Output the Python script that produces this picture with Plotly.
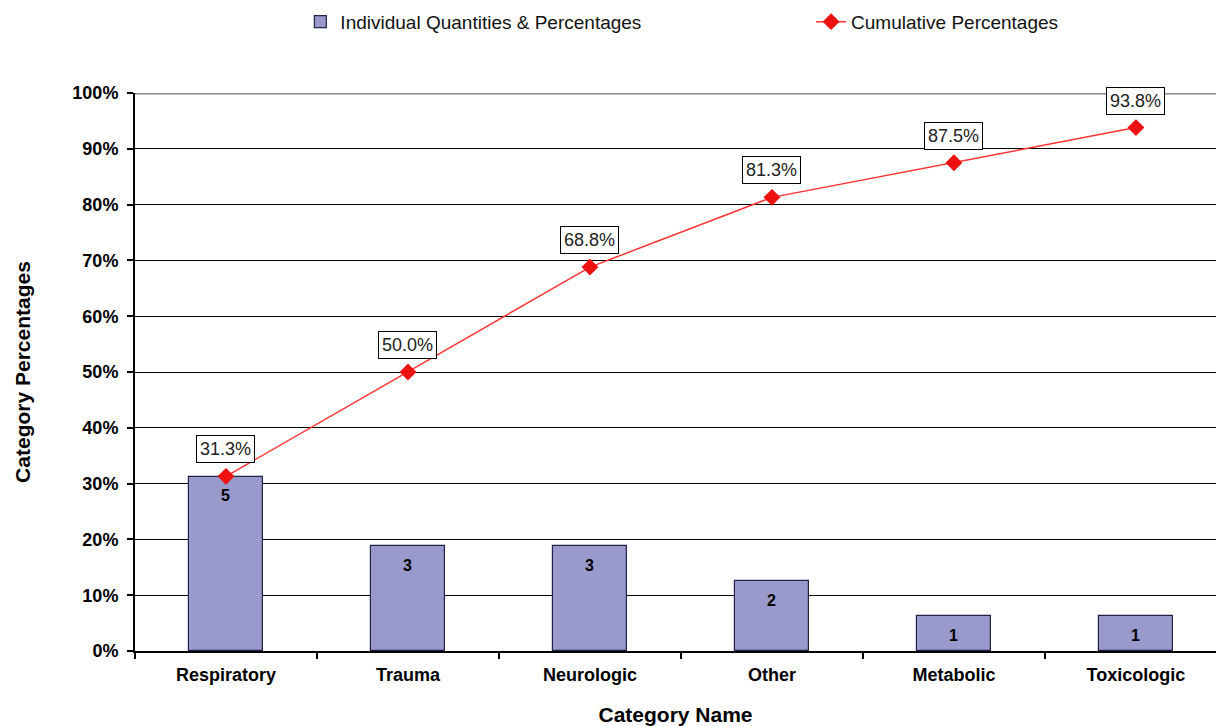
import plotly.graph_objects as go

categories = ["Respiratory", "Trauma", "Neurologic", "Other", "Metabolic", "Toxicologic"]
counts = [5, 3, 3, 2, 1, 1]
total_count = 16
percentages = [c / total_count * 100 for c in counts]
cumulative = [31.3, 50.0, 68.8, 81.3, 87.5, 93.8]
y_ticks = [0, 10, 20, 30, 40, 50, 60, 70, 80, 90, 100]

FONT = "Liberation Sans, Arial, sans-serif"

fig = go.Figure()
fig.add_trace(go.Bar(
    x=categories, y=percentages, width=0.41,
    marker=dict(color="#9999CC", line=dict(color="#222244", width=1.2)),
    name="Individual Quantities & Percentages", legend="legend",
))
fig.add_trace(go.Scatter(
    x=categories, y=cumulative, mode="lines+markers",
    line=dict(color="#FF3333", width=1.5),
    marker=dict(symbol="diamond", size=13, color="#EE1111"),
    name="Cumulative Percentages", legend="legend2",
))

# count labels just inside the top of each bar
for cat, pct, cnt in zip(categories, percentages, counts):
    fig.add_annotation(
        x=cat, y=pct, text=str(cnt), showarrow=False, yshift=-19,
        font=dict(family=FONT, size=16, color="black", weight="bold"),
    )

for cat, val in zip(categories, cumulative):
    fig.add_annotation(
        x=cat, y=val, text=f"{val:.1f}%", showarrow=False, yshift=27,
        font=dict(family=FONT, size=18, color="#222"),
        bgcolor="white", bordercolor="black", borderwidth=1, borderpad=3,
    )

fig.add_shape(type="line", xref="paper", yref="y", x0=0, x1=1, y0=100, y1=100,
              line=dict(color="#888888", width=3), layer="above")

legend_font = dict(family=FONT, size=19, color="#111")
fig.update_layout(
    width=1216, height=726,
    margin=dict(l=135, r=0, t=93, b=75, autoexpand=False),
    plot_bgcolor="white", paper_bgcolor="white",
    font=dict(family=FONT, color="black"),
    bargap=0,
    showlegend=True,
    legend=dict(orientation="h", xref="container", yref="container", x=0.247, xanchor="left",
                y=0.97, yanchor="middle", font=legend_font, bgcolor="rgba(0,0,0,0)"),
    legend2=dict(orientation="h", xref="container", yref="container", x=0.667, xanchor="left",
                 y=0.97, yanchor="middle", font=legend_font, bgcolor="rgba(0,0,0,0)"),
    xaxis=dict(
        range=[-0.5, 5.44], showline=True, linecolor="black", linewidth=2,
        ticks="outside", tickson="boundaries", ticklen=6, tickcolor="black", tickwidth=1.5,
        ticklabelstandoff=6,
        tickfont=dict(family=FONT, size=18, weight="bold"),
        title=dict(text="Category Name", font=dict(family=FONT, size=21, weight="bold"), standoff=24),
    ),
    yaxis=dict(
        range=[0, 100], tickvals=y_ticks, ticktext=[f"{v}%" for v in y_ticks],
        showline=True, linecolor="black", linewidth=2,
        showgrid=True, gridcolor="black", gridwidth=1,
        ticks="outside", ticklen=6, tickcolor="black", tickwidth=1.5,
        ticklabelstandoff=5,
        tickfont=dict(family=FONT, size=18, weight="bold"),
        title=dict(text="Category Percentages", font=dict(family=FONT, size=21, weight="bold"), standoff=36),
    ),
)

fig.write_html("out.html")
